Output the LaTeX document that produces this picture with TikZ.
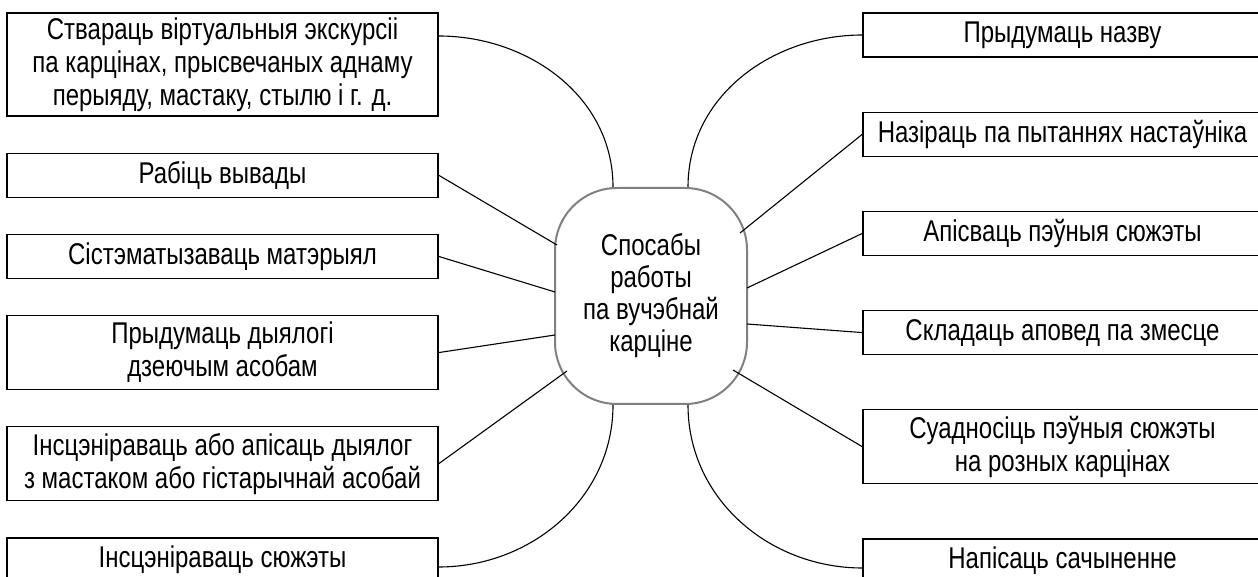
\documentclass[tikz,border=0pt]{standalone}
\usepackage{fontspec}
\setmainfont{Liberation Sans}[FakeStretch=0.8]
\usetikzlibrary{calc,positioning,chains}

\begin{document}
\begin{tikzpicture}[x=1pt,y=1pt,
						topic/.style={
							rectangle,
							draw=black, line width=1.2pt,
							minimum height=44pt,
							inner sep=0pt,
							align=center,
							font=\fontsize{30}{33}\selectfont
						},
						leftbox/.style={topic, minimum width=431pt},
						rightbox/.style={topic, minimum width=399pt},
						twolines/.style={minimum height=74pt},
						threelines/.style={minimum height=103pt},
						hub/.style={
							rectangle,
							rounded corners=62pt,
							draw=black!50, line width=2pt,
							minimum width=192pt,
							minimum height=216pt,
							align=center,
							font=\fontsize{30}{32}\selectfont
						},
						link/.style={draw=black, line width=1.1pt},
						chained/.style={every node/.style={on chain}}]

						\useasboundingbox (0,0) rectangle (1258,577);
						\clip (0,0) rectangle (1258,577);

						% Draw the central node
						\node [hub] (centre) at (651,281) {Спосабы\\работы\\па вучэбнай\\карціне};

						% Left column of boxes
						\begin{scope}[start chain=going below, chained, node distance=36pt]
							\node [leftbox, threelines] (l1) at (222.5,512.5) {Ствараць віртуальныя экскурсіі\\па карцінах, прысвечаных аднаму\\перыяду, мастаку, стылю і г. д.};
							\node [leftbox] (l2) {Рабіць вывады};
							\node [leftbox] (l3) {Сістэматызаваць матэрыял};
							\node [leftbox, twolines] (l4) {Прыдумаць дыялогі\\дзеючым асобам};
							\node [leftbox, twolines] (l5) {Інсцэніраваць або апісаць дыялог\\з мастаком або гістарычнай асобай};
							\node [leftbox] (l6) {Інсцэніраваць сюжэты};
						\end{scope}

						% Right column of boxes
						\begin{scope}[start chain=going below, chained, node distance=54pt]
							\node [rightbox] (r1) at (1062.5,542) {Прыдумаць назву};
							\node [rightbox] (r2) {Назіраць па пытаннях настаўніка};
							\node [rightbox] (r3) {Апісваць пэўныя сюжэты};
							\node [rightbox] (r4) {Складаць аповед па змесце};
							\node [rightbox, twolines] (r5) {Суадносіць пэўныя сюжэты\\на розных карцінах};
							\node [rightbox] (r6) {Напісаць сачыненне};
						\end{scope}

						%% Curved links at the top and bottom
						\draw [link] ([yshift=28.5pt]l1.east) to[out=0,in=90] ([xshift=-38pt]centre.north);
						\draw [link] (r1.west) to[out=180,in=90] ([xshift=37pt]centre.north);
						\draw [link] ([yshift=-7pt]l6.east) to[out=0,in=-90] ([xshift=-38pt]centre.south);
						\draw [link] ([yshift=-7pt]r6.west) to[out=180,in=-90] ([xshift=37pt]centre.south);

						%% Straight links
						\draw [link] (l2.east) -- ([shift={(-94,51)}]centre.center);
						\draw [link] (l3.east) -- ([shift={(-96,4)}]centre.center);
						\draw [link] (l4.east) -- ([shift={(-96,-39)}]centre.center);
						\draw [link] (l5.east) -- ([shift={(-84,-75)}]centre.center);
						\draw [link] (r2.west) -- ([shift={(89,63)}]centre.center);
						\draw [link] (r3.west) -- ([shift={(96,8)}]centre.center);
						\draw [link] (r4.west) -- ([shift={(96,-28)}]centre.center);
						\draw [link] (r5.west) -- ([shift={(82,-74)}]centre.center);
					\end{tikzpicture}
\end{document}
